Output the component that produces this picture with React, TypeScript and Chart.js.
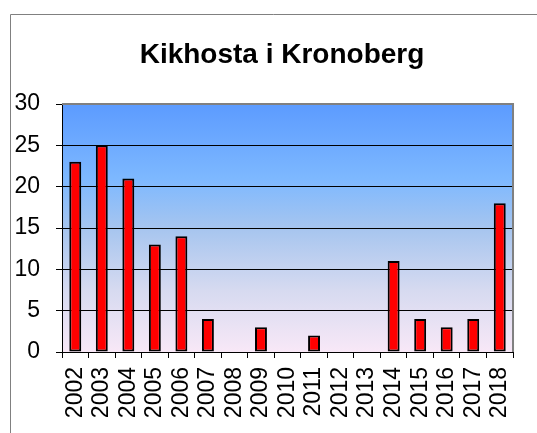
import React, { useEffect, useRef } from "react";
import { Chart, registerables } from "chart.js";

Chart.register(...registerables);

const TITLE = "Kikhosta i Kronoberg";
const years = ["2002","2003","2004","2005","2006","2007","2008","2009","2010","2011","2012","2013","2014","2015","2016","2017","2018"];
const cases = [23, 25, 21, 13, 14, 4, 0, 3, 0, 2, 0, 0, 11, 4, 3, 4, 18];
const yMin = 0;
const yMax = 30;
const yStep = 5;

const FONT = '"Liberation Sans", Arial, Helvetica, sans-serif';

const decorPlugin = {
  id: "decor",
  beforeDraw(chart: any) {
    const { ctx, chartArea } = chart;
    const { left, top, right, bottom } = chartArea;
    ctx.save();
    const g = ctx.createLinearGradient(0, top, 0, bottom);
    g.addColorStop(0, "#5C9BFF");
    g.addColorStop(0.3, "#7DB8FF");
    g.addColorStop(0.5, "#A6C5EF");
    g.addColorStop(0.75, "#D6DAF0");
    g.addColorStop(1, "#F8E8F7");
    ctx.fillStyle = g;
    ctx.fillRect(left, top, right - left, bottom - top);
    // outer frame
    ctx.strokeStyle = "#808080";
    ctx.lineWidth = 1;
    ctx.beginPath();
    ctx.moveTo(10.5, chart.height);
    ctx.lineTo(10.5, 14.5);
    ctx.lineTo(chart.width, 14.5);
    ctx.stroke();
    // title
    ctx.fillStyle = "#000";
    ctx.font = `bold 28px ${FONT}`;
    ctx.textAlign = "center";
    ctx.textBaseline = "alphabetic";
    ctx.fillText(TITLE, 282, 63);
    ctx.restore();
  },
  afterDraw(chart: any) {
    const { ctx, chartArea } = chart;
    const { left, top, right, bottom } = chartArea;
    ctx.save();
    ctx.strokeStyle = "#808080";
    ctx.lineWidth = 2;
    ctx.beginPath();
    ctx.moveTo(left, top);
    ctx.lineTo(right, top);
    ctx.lineTo(right, bottom);
    ctx.stroke();
    ctx.restore();
  },
};

export default function App() {
  const ref = useRef<HTMLCanvasElement | null>(null);
  useEffect(() => {
    if (!ref.current) return;
    const chart = new Chart(ref.current, {
      type: "bar",
      data: {
        labels: years,
        datasets: [
          {
            data: cases,
            backgroundColor: "#FF0000",
            borderColor: "#000000",
            borderWidth: 2,
            borderSkipped: false,
            barPercentage: 0.45,
            categoryPercentage: 1,
          },
        ],
      },
      options: {
        responsive: false,
        animation: false,
        layout: { padding: { top: 104, left: 0, right: 22, bottom: 0 } },
        plugins: {
          legend: { display: false },
          title: { display: false },
          tooltip: { enabled: false },
        },
        scales: {
          x: {
            offset: true,
            grid: {
              offset: true,
              drawOnChartArea: false,
              drawTicks: true,
              tickLength: 6,
              tickColor: "#000",
            },
            border: { display: true, color: "#000", width: 1 },
            ticks: {
              autoSkip: false,
              minRotation: 90,
              maxRotation: 90,
              padding: 9,
              color: "#000",
              font: { family: FONT, size: 23 },
            },
            afterFit(scale: any) {
              scale.height = 81;
            },
          },
          y: {
            min: yMin,
            max: yMax,
            ticks: {
              stepSize: yStep,
              padding: 16,
              color: "#000",
              font: { family: FONT, size: 23 },
            },
            grid: {
              color: (c: any) => (c.tick && c.tick.value === yMax ? "#808080" : "#000"),
              lineWidth: 1,
              drawTicks: true,
              tickLength: 6,
              tickColor: "#000",
            },
            border: { display: true, color: "#000", width: 1 },
            afterFit(scale: any) {
              scale.width = 62;
            },
          },
        },
      },
      plugins: [decorPlugin],
    });
    return () => chart.destroy();
  }, []);
  return (
    <div style={{ position: "fixed", left: 0, top: 0, width: 537, height: 433, background: "#fff" }}>
      <canvas ref={ref} width={537} height={433} />
    </div>
  );
}
